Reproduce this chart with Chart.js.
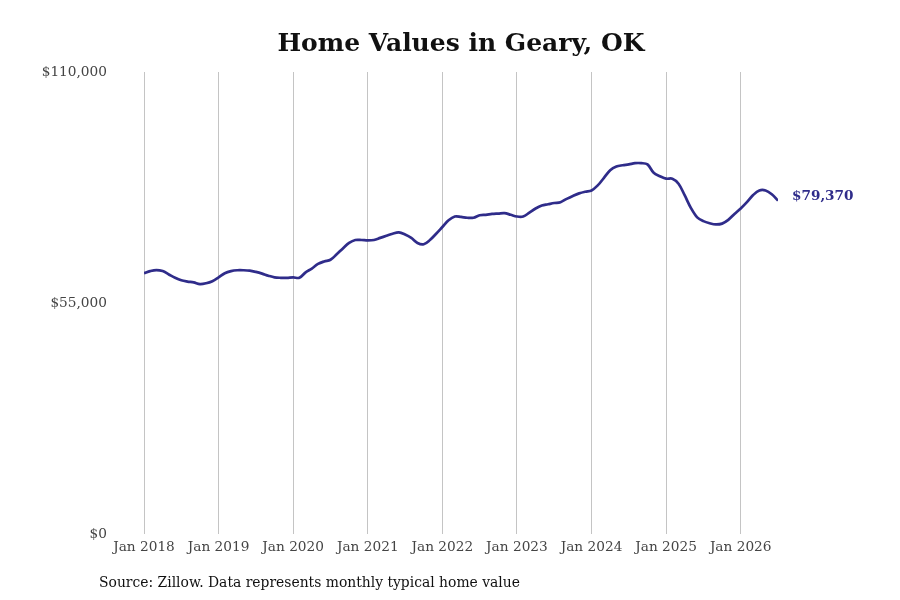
<!DOCTYPE html>
<html>
<head>
<meta charset="utf-8">
<script src="https://cdn.jsdelivr.net/npm/chart.js@4.4.1/dist/chart.umd.min.js"></script>
<style>
  html, body { margin: 0; padding: 0; background: #ffffff; }
  #wrap { width: 900px; height: 600px; position: relative; }
</style>
</head>
<body>
<div id="wrap"><canvas id="c" width="900" height="600"></canvas></div>
<script>
// ---- Data ----
const titleText = "Home Values in Geary, OK";
const sourceText = "Source: Zillow. Data represents monthly typical home value";
const startYear = 2018;   // first month = Jan 2018, monthly series
const homeValues = [
  62100, 62600, 62850, 62600, 61800, 61000, 60400, 60100, 59900, 59500, 59700, 60200,
  61100, 62100, 62600, 62800, 62800, 62700, 62400, 62000, 61500, 61100, 61000, 61000,
  61100, 61000, 62300, 63200, 64300, 64900, 65300, 66600, 68000, 69300, 70000, 70000,
  69900, 70000, 70500, 71000, 71500, 71800, 71300, 70500, 69300, 69000, 70000, 71500,
  73100, 74700, 75600, 75500, 75300, 75300, 75900, 76000, 76200, 76300, 76400, 76000,
  75600, 75600, 76500, 77500, 78200, 78500, 78800, 79000, 79800, 80500, 81100, 81500,
  81800, 83000, 84800, 86600, 87500, 87800, 88000, 88300, 88300, 88000, 86000, 85200,
  84600, 84600, 83400, 80600, 77600, 75400, 74500, 74000, 73700, 73900, 74800, 76200,
  77500, 79000, 80700, 81800, 81800, 80900, 79370
];
const tickYears = ["Jan 2018", "Jan 2019", "Jan 2020", "Jan 2021", "Jan 2022", "Jan 2023", "Jan 2024", "Jan 2025", "Jan 2026"];
const yTicks = [0, 55000, 110000];
const endLabel = "$79,370";

const lineColor = "#2f2c8a";
const serif = "'DejaVu Serif', serif";

const points = homeValues.map((v, i) => ({ x: i, y: v }));
const tickMonths = tickYears.map((_, i) => i * 12);

const fmt = v => "$" + v.toLocaleString("en-US");

const overlay = {
  id: "overlay",
  afterDraw(chart) {
    const ctx = chart.ctx;
    const ca = chart.chartArea;
    ctx.save();
    // Title
    ctx.fillStyle = "#111";
    ctx.font = "bold 25px " + serif;
    ctx.textAlign = "center";
    ctx.textBaseline = "middle";
    ctx.fillText(titleText, (ca.left + ca.right) / 2, 44);
    // Source
    ctx.font = "13.9px " + serif;
    ctx.textAlign = "left";
    ctx.fillStyle = "#111";
    ctx.fillText(sourceText, 99, 583);
    // End label
    const meta = chart.getDatasetMeta(0);
    const last = meta.data[meta.data.length - 1];
    ctx.font = "bold 13.6px " + serif;
    ctx.fillStyle = lineColor;
    ctx.fillText(endLabel, last.x + 14, last.y - 4);
    ctx.restore();
  }
};

new Chart(document.getElementById("c"), {
  type: "line",
  data: {
    datasets: [{
      data: points,
      borderColor: lineColor,
      borderWidth: 2.7,
      pointRadius: 0,
      tension: 0.35,
      fill: false
    }]
  },
  options: {
    responsive: false,
    animation: false,
    devicePixelRatio: 1,
    layout: { padding: { top: 72, right: 122, bottom: 0, left: 0 } },
    plugins: { legend: { display: false }, title: { display: false }, tooltip: { enabled: false } },
    scales: {
      x: {
        type: "linear",
        min: 0,
        max: homeValues.length - 1,
        afterBuildTicks(scale) { scale.ticks = tickMonths.map(v => ({ value: v })); },
        afterFit(scale) { scale.height = 66; },
        grid: { display: true, color: "#c4c4c4", lineWidth: 1, drawTicks: false },
        border: { display: false },
        ticks: {
          autoSkip: false,
          maxRotation: 0,
          padding: 5,
          color: "#444",
          font: { family: serif, size: 13.7 },
          callback: (v) => tickYears[tickMonths.indexOf(v)] || ""
        }
      },
      y: {
        min: 0,
        max: 110000,
        afterBuildTicks(scale) { scale.ticks = yTicks.map(v => ({ value: v })); },
        afterFit(scale) { scale.width = 144; },
        grid: { display: false, drawTicks: false },
        border: { display: false },
        ticks: {
          padding: 37,
          color: "#444",
          font: { family: serif, size: 13.7 },
          callback: (v) => fmt(v)
        }
      }
    }
  },
  plugins: [overlay]
});
</script>
</body>
</html>
